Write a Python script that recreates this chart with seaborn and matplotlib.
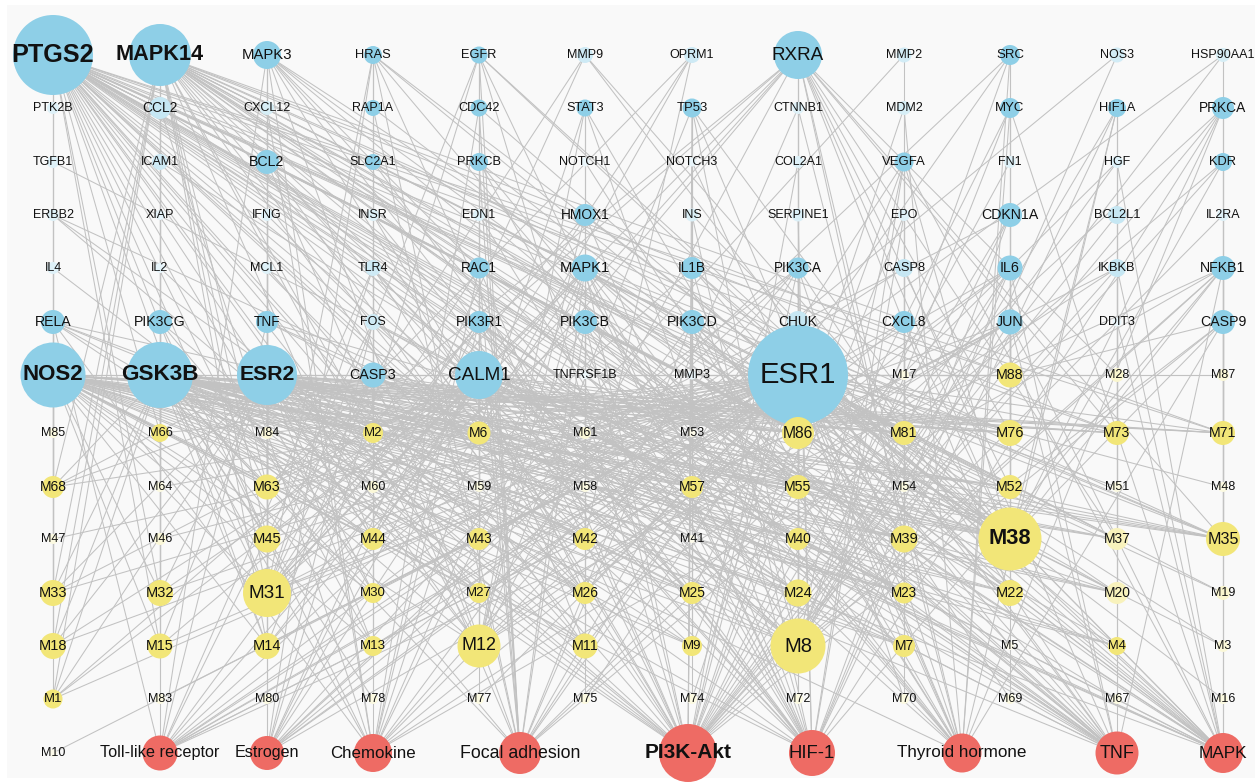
import numpy as np
import pandas as pd
import matplotlib
matplotlib.use("Agg")
import matplotlib.pyplot as plt
from matplotlib.collections import LineCollection
from matplotlib.patches import Rectangle
from matplotlib.colors import to_rgb, to_hex
import seaborn as sns

# ---------------------------------------------------------------- data
# target genes, one list per grid row (top to bottom)
target_rows = [
    ["PTGS2", "MAPK14", "MAPK3", "HRAS", "EGFR", "MMP9", "OPRM1", "RXRA", "MMP2", "SRC", "NOS3", "HSP90AA1"],
    ["PTK2B", "CCL2", "CXCL12", "RAP1A", "CDC42", "STAT3", "TP53", "CTNNB1", "MDM2", "MYC", "HIF1A", "PRKCA"],
    ["TGFB1", "ICAM1", "BCL2", "SLC2A1", "PRKCB", "NOTCH1", "NOTCH3", "COL2A1", "VEGFA", "FN1", "HGF", "KDR"],
    ["ERBB2", "XIAP", "IFNG", "INSR", "EDN1", "HMOX1", "INS", "SERPINE1", "EPO", "CDKN1A", "BCL2L1", "IL2RA"],
    ["IL4", "IL2", "MCL1", "TLR4", "RAC1", "MAPK1", "IL1B", "PIK3CA", "CASP8", "IL6", "IKBKB", "NFKB1"],
    ["RELA", "PIK3CG", "TNF", "FOS", "PIK3R1", "PIK3CB", "PIK3CD", "CHUK", "CXCL8", "JUN", "DDIT3", "CASP9"],
    ["NOS2", "GSK3B", "ESR2", "CASP3", "CALM1", "TNFRSF1B", "MMP3", "ESR1"],
]
target_size = [
    [40, 31, 14, 9, 8.5, 8, 8, 24, 7.5, 10, 7.5, 7],
    [6, 11, 7, 8, 8.5, 8.5, 9.5, 6, 7, 10, 9, 11],
    [6, 8, 12, 8, 9, 4.5, 4.5, 6, 9.5, 6, 6, 9],
    [6, 5, 6, 6, 6, 11, 6.5, 6.5, 6, 12, 9, 6],
    [6, 5, 6, 8, 10.5, 13.5, 11, 10.5, 9, 12.5, 9, 12],
    [12, 12, 11, 8, 11, 12, 12, 11, 11, 12.5, 4.5, 12],
    [32.5, 33, 30, 12.5, 24, 4, 4.5, 50],
]

# compounds, one list per grid row (continuing below the targets)
compound_rows = [
    ["M17", "M88", "M28", "M87"],
    ["M85", "M66", "M84", "M2", "M6", "M61", "M53", "M86", "M81", "M76", "M73", "M71"],
    ["M68", "M64", "M63", "M60", "M59", "M58", "M57", "M55", "M54", "M52", "M51", "M48"],
    ["M47", "M46", "M45", "M44", "M43", "M42", "M41", "M40", "M39", "M38", "M37", "M35"],
    ["M33", "M32", "M31", "M30", "M27", "M26", "M25", "M24", "M23", "M22", "M20", "M19"],
    ["M18", "M15", "M14", "M13", "M12", "M11", "M9", "M8", "M7", "M5", "M4", "M3"],
    ["M1", "M83", "M80", "M78", "M77", "M75", "M74", "M72", "M70", "M69", "M67", "M16"],
    ["M10"],
]
compound_size = [
    [5, 12.5, 7, 6],
    [5, 9, 6, 10, 11.5, 6, 4, 16, 12, 13, 12, 12],
    [11, 5, 12.5, 6, 5, 5, 11, 12, 5, 12, 5, 5],
    [5, 6, 13.5, 11, 11, 11, 4, 11, 13.5, 31.5, 11, 17],
    [13, 13, 24, 10, 10, 11, 11, 13.5, 10.5, 13, 11, 7],
    [13, 12.5, 13, 10, 21.5, 12.5, 10, 27.5, 11, 4, 9, 6],
    [9.5, 5, 5, 5, 5, 5, 5, 5, 5, 5, 5, 5],
    [4],
]

pathways = ["Toll-like receptor", "Estrogen", "Chemokine", "Focal adhesion", "PI3K-Akt",
            "HIF-1", "Thyroid hormone", "TNF", "MAPK"]
pathway_size = [17.5, 17, 19, 21, 29, 23, 19.5, 21.5, 20]

# nodes with low centrality, drawn in a faint tint
faint_nodes = ["PTK2B", "CCL2", "CXCL12", "TGFB1", "ICAM1", "ERBB2", "XIAP", "IFNG", "INSR",
               "MMP9", "OPRM1", "CTNNB1", "NOTCH1", "NOTCH3", "COL2A1", "EDN1", "INS", "SERPINE1",
               "MMP2", "NOS3", "HSP90AA1", "MDM2", "FN1", "HGF", "EPO", "BCL2L1", "IL2RA",
               "IL4", "IL2", "MCL1", "TLR4", "FOS", "CHUK", "CASP8", "IKBKB", "DDIT3",
               "TNFRSF1B", "MMP3",
               "M17", "M28", "M87", "M85", "M84", "M61", "M53", "M64", "M60", "M59", "M58",
               "M54", "M51", "M48", "M47", "M46", "M41", "M37", "M20", "M19", "M5", "M3",
               "M83", "M80", "M78", "M77", "M75", "M74", "M72", "M70", "M69", "M67", "M16", "M10"]

bold_labels = ["PTGS2", "MAPK14", "NOS2", "GSK3B", "ESR2", "M38", "PI3K-Akt"]

# compound -> target links
compound_links = {
    "M17": "ESR1 NOS2",
    "M88": "ESR1 NOS2 GSK3B ESR2 CALM1 PTGS2 MAPK14 IL6 JUN CASP9",
    "M28": "ESR1 NOS2 GSK3B RXRA",
    "M87": "ESR1 NOS2 PRKCA",
    "M85": "PTGS2 NOS2",
    "M66": "PTGS2 MAPK14 GSK3B ESR1 NOS2 CCL2 PIK3CG",
    "M84": "ESR2 MAPK3 ESR1",
    "M2": "ESR1 PTGS2 NOS2 GSK3B CASP3 HRAS TLR4 MAPK14",
    "M6": "ESR1 PTGS2 NOS2 GSK3B ESR2 CALM1 EGFR RAC1 RXRA OPRM1",
    "M61": "ESR1 GSK3B STAT3",
    "M53": "PTGS2",
    "M86": "ESR1 PTGS2 NOS2 GSK3B ESR2 MAPK14 CALM1 RXRA CHUK PIK3CA CTNNB1 JUN IL6 PIK3CD CASP3",
    "M81": "ESR1 PTGS2 NOS2 GSK3B ESR2 MAPK14 CALM1 VEGFA CXCL8 CASP8",
    "M76": "ESR1 PTGS2 NOS2 GSK3B ESR2 MAPK14 CALM1 RXRA JUN IL6 CDKN1A MYC SRC",
    "M73": "ESR1 PTGS2 NOS2 GSK3B ESR2 MAPK14 RXRA IKBKB HIF1A BCL2L1",
    "M71": "ESR1 PTGS2 NOS2 GSK3B ESR2 MAPK14 NFKB1 CASP9 PRKCA KDR",
    "M68": "PTGS2 NOS2 ESR1 GSK3B ESR2 RELA MAPK14 CASP3",
    "M64": "MAPK14 ESR1",
    "M63": "ESR1 PTGS2 NOS2 GSK3B ESR2 MAPK14 CALM1 MAPK3 BCL2 TNF MCL1 RXRA IFNG OPRM1",
    "M60": "PTGS2 ESR1 FOS",
    "M59": "ESR1 EDN1",
    "M58": "GSK3B PIK3CB",
    "M57": "ESR1 PTGS2 NOS2 GSK3B ESR2 MAPK14 CALM1 PIK3CD TP53 IL1B",
    "M55": "ESR1 PTGS2 NOS2 GSK3B ESR2 MAPK14 CALM1 RXRA PIK3CA SERPINE1",
    "M54": "ESR1 CXCL8",
    "M52": "ESR1 PTGS2 NOS2 GSK3B ESR2 MAPK14 RXRA JUN CDKN1A MYC IL6",
    "M51": "ESR1 HGF",
    "M48": "NFKB1 ESR1",
    "M47": "PTGS2 ESR1",
    "M46": "MAPK14 ESR1 XIAP",
    "M45": "ESR1 PTGS2 NOS2 GSK3B ESR2 MAPK14 CALM1 MAPK3 BCL2 TNF MMP9",
    "M44": "ESR1 PTGS2 NOS2 GSK3B ESR2 MAPK14 CALM1 HRAS CASP3 OPRM1",
    "M43": "ESR1 PTGS2 NOS2 GSK3B ESR2 CALM1 EGFR RAC1",
    "M42": "ESR1 PTGS2 NOS2 GSK3B ESR2 MAPK14 STAT3 PIK3CB OPRM1",
    "M41": "ESR1",
    "M40": "ESR1 PTGS2 NOS2 GSK3B ESR2 RXRA CHUK PIK3CA",
    "M39": "ESR1 PTGS2 NOS2 GSK3B ESR2 MAPK14 CALM1 RXRA VEGFA CXCL8 CASP8 EPO MDM2 MMP2",
    "M38": "ESR1 PTGS2 NOS2 GSK3B ESR2 MAPK14 CALM1 RXRA MAPK3 HRAS EGFR MMP9 SRC CCL2 TP53 "
           "MYC HIF1A PRKCA BCL2 VEGFA KDR HMOX1 CDKN1A MAPK1 IL1B IL6 NFKB1 RELA TNF PIK3CB "
           "JUN CASP9 CASP3 CXCL8",
    "M37": "ESR1 PTGS2 NOS2 GSK3B ESR2 MAPK14 RXRA IKBKB HIF1A",
    "M35": "ESR1 PTGS2 NOS2 GSK3B ESR2 MAPK14 CALM1 RXRA NFKB1 CASP9 PRKCA KDR HSP90AA1 IL2RA MAPK1 CASP3",
    "M33": "PTGS2 NOS2 ESR1 GSK3B ESR2 MAPK14 CALM1 RELA IL4 TGFB1",
    "M32": "PTGS2 MAPK14 NOS2 GSK3B ESR1 ESR2 CALM1 PIK3CG ICAM1 CCL2",
    "M31": "ESR1 PTGS2 NOS2 GSK3B ESR2 MAPK14 CALM1 RXRA MAPK3 BCL2 TNF IFNG MCL1 CXCL12 HRAS "
           "CASP3 TLR4 EGFR RAC1 MAPK1 PIK3CB PIK3R1 JUN CDKN1A HMOX1",
    "M30": "ESR1 PTGS2 NOS2 GSK3B ESR2 HRAS CASP3 TLR4",
    "M27": "ESR1 PTGS2 NOS2 GSK3B ESR2 CALM1 EGFR PIK3R1",
    "M26": "ESR1 PTGS2 NOS2 GSK3B ESR2 MAPK14 CALM1 MAPK1 PIK3CB",
    "M25": "ESR1 PTGS2 NOS2 GSK3B ESR2 MAPK14 TP53 PIK3CD IL1B",
    "M24": "ESR1 PTGS2 NOS2 GSK3B ESR2 MAPK14 CALM1 RXRA PIK3CA CHUK CTNNB1 SERPINE1 COL2A1",
    "M23": "ESR1 PTGS2 NOS2 GSK3B ESR2 MAPK14 CALM1 VEGFA CASP8 CXCL8",
    "M22": "ESR1 PTGS2 NOS2 GSK3B ESR2 MAPK14 RXRA CDKN1A JUN IL6 MYC",
    "M20": "ESR1 PTGS2 NOS2 GSK3B ESR2 MAPK14 CALM1 IKBKB BCL2L1 HIF1A",
    "M19": "ESR1 NFKB1 CASP9 PTGS2",
    "M18": "PTGS2 NOS2 ESR1 GSK3B ESR2 MAPK14 CALM1 RELA PTK2B ERBB2 IL4",
    "M15": "MAPK14 PTGS2 NOS2 GSK3B ESR1 ESR2 CALM1 CCL2 ICAM1 PIK3CG IL2",
    "M14": "ESR1 PTGS2 NOS2 GSK3B ESR2 MAPK14 CALM1 MAPK3 BCL2 TNF MCL1 RXRA CASP3",
    "M13": "ESR1 PTGS2 NOS2 GSK3B ESR2 HRAS TLR4 FOS SLC2A1",
    "M12": "ESR1 PTGS2 NOS2 GSK3B ESR2 MAPK14 CALM1 RXRA EGFR CDC42 PRKCB RAC1 PIK3R1 EDN1 "
           "MAPK1 STAT3 HMOX1 CASP3 TP53 JUN IL6",
    "M11": "ESR1 PTGS2 NOS2 GSK3B ESR2 MAPK14 CALM1 STAT3 MAPK1 PIK3CB HMOX1",
    "M9": "ESR1 PTGS2 NOS2 GSK3B ESR2 TP53 PIK3CD IL1B",
    "M8": "ESR1 PTGS2 NOS2 GSK3B ESR2 MAPK14 CALM1 RXRA CTNNB1 COL2A1 SERPINE1 PIK3CA CHUK "
          "MAPK3 MAPK1 SRC VEGFA TP53 MYC HIF1A CDKN1A JUN IL6 IL1B BCL2 CASP3 CASP9 NFKB1",
    "M7": "ESR1 PTGS2 NOS2 GSK3B ESR2 VEGFA EPO CASP8",
    "M5": "ESR1",
    "M4": "ESR1 PTGS2 NOS2 GSK3B IKBKB HIF1A ESR2",
    "M3": "ESR1 PTGS2 NFKB1",
    "M1": "PTGS2 NOS2 ESR1 GSK3B ESR2 MAPK14 CALM1 RXRA",
    "M83": "MAPK14 ESR1",
    "M80": "MAPK3 ESR2",
    "M78": "HRAS GSK3B",
    "M77": "EGFR ESR1",
    "M75": "STAT3 ESR1",
    "M74": "TP53 ESR1",
    "M72": "ESR1 RXRA",
    "M70": "VEGFA ESR1",
    "M69": "MYC ESR1",
    "M67": "HIF1A PTGS2",
    "M16": "NFKB1 ESR1",
    "M10": "ESR1",
}

# pathway -> target links
pathway_links = {
    "Toll-like receptor": "MAPK14 MAPK3 MAPK1 TLR4 IL1B IL6 TNF CXCL8 RELA NFKB1 IKBKB CHUK "
                          "PIK3CA PIK3R1 JUN FOS CASP8",
    "Estrogen": "ESR1 ESR2 MAPK3 MAPK1 HRAS EGFR SRC MMP2 MMP9 HSP90AA1 NOS3 CALM1 PIK3CA PIK3R1 FOS JUN",
    "Chemokine": "HRAS CCL2 CXCL12 CXCL8 RAC1 CDC42 STAT3 PIK3CG PIK3CA PIK3CB PIK3CD PIK3R1 "
                 "MAPK3 MAPK1 RELA NFKB1 IKBKB CHUK GSK3B",
    "Focal adhesion": "EGFR HRAS RAP1A CDC42 RAC1 PRKCA PRKCB SRC MAPK3 MAPK1 PIK3CA PIK3CB PIK3CD "
                      "PIK3R1 PIK3CG GSK3B CTNNB1 BCL2 VEGFA KDR HGF",
    "PI3K-Akt": "EGFR HRAS MAPK3 MAPK1 PIK3CA PIK3CB PIK3CD PIK3R1 PIK3CG GSK3B TP53 MDM2 MYC BCL2 "
                "BCL2L1 MCL1 CDKN1A CASP9 IL4 IL2 IL2RA IL6 INS INSR KDR VEGFA HGF FN1 COL2A1 EPO "
                "RELA NFKB1 IKBKB CHUK HSP90AA1 PRKCA RAC1 TLR4 ERBB2",
    "HIF-1": "HIF1A VEGFA EGFR ERBB2 INS INSR IL6 NOS2 NOS3 HMOX1 EDN1 SERPINE1 EPO SLC2A1 CDKN1A "
             "BCL2 PIK3CA PIK3CB PIK3CD PIK3R1 MAPK3 MAPK1 TLR4 RELA NFKB1 PRKCA PRKCB IFNG STAT3",
    "Thyroid hormone": "ESR1 MAPK3 MAPK1 HRAS SRC PIK3CA PIK3R1 PIK3CB PIK3CD GSK3B CTNNB1 MYC TP53 "
                       "MDM2 NOTCH1 NOTCH3 PRKCA PRKCB CASP9 HIF1A STAT3 RXRA",
    "TNF": "TNF TNFRSF1B MAPK14 MAPK3 MAPK1 IKBKB CHUK RELA NFKB1 JUN FOS IL6 IL1B CCL2 ICAM1 "
           "MMP3 MMP9 PTGS2 EDN1 CASP3 CASP8 PIK3CA PIK3CB PIK3CD PIK3R1",
    "MAPK": "MAPK14 MAPK3 MAPK1 HRAS RAP1A EGFR ERBB2 INSR INS KDR VEGFA HGF TNF IL1B TGFB1 CDC42 "
            "RAC1 PRKCA PRKCB CASP3 NFKB1 IKBKB CHUK RELA JUN FOS MYC DDIT3 HSP90AA1",
}

# ---------------------------------------------------------------- layout (pixel grid)
W, H = 1255, 782
col_x = [53, 160, 267, 373, 479, 585, 692, 798, 904, 1010, 1117, 1223]
row_y = [55, 108, 162, 215, 268, 322, 375, 433, 487, 539, 593, 646, 699, 753]
pathway_x = [160, 267, 373, 520, 688, 812, 962, 1117, 1223]

colors = {"target": "#8ecfe7", "compound": "#f2e678", "pathway": "#ee6b64"}

# node ids are prefixed by group so that "TNF" the gene and "TNF" the pathway stay distinct
records = []
for i, (names, sizes) in enumerate(zip(target_rows, target_size)):
    for j, (n, r) in enumerate(zip(names, sizes)):
        records.append(("g:" + n, n, col_x[j], row_y[i], r, "target"))
for i, (names, sizes) in enumerate(zip(compound_rows, compound_size)):
    row = 6 + i
    offset = len(target_rows[6]) if i == 0 else 0
    for j, (n, r) in enumerate(zip(names, sizes)):
        records.append(("c:" + n, n, col_x[offset + j], row_y[row], r, "compound"))
for n, r, x in zip(pathways, pathway_size, pathway_x):
    records.append(("p:" + n, n, x, row_y[13], r, "pathway"))

nodes = pd.DataFrame(records, columns=["id", "label", "x", "y", "r", "group"])
pos = {i: (x, y) for i, x, y in zip(nodes["id"], nodes["x"], nodes["y"])}


def tint(base, r, faint):
    rgb = np.array(to_rgb(base))
    if not faint:
        return to_hex(rgb)
    t = float(np.clip(0.15 + (r - 4) * 0.07, 0.1, 0.5))
    return to_hex(rgb * t + np.ones(3) * (1 - t))


palette = {i: tint(colors[g], r, lab in faint_nodes)
           for i, lab, r, g in zip(nodes["id"], nodes["label"], nodes["r"], nodes["group"])}
# marker area (pt^2) for a circle of radius r pixels at 100 dpi
nodes["area"] = (2 * nodes["r"] * 0.72) ** 2

# edges
segments = []
for src, tgts in compound_links.items():
    for t in tgts.split():
        segments.append([pos["c:" + src], pos["g:" + t]])
for src, tgts in pathway_links.items():
    for t in tgts.split():
        segments.append([pos["p:" + src], pos["g:" + t]])

# ---------------------------------------------------------------- drawing
sns.set_theme(style="white")
plt.rcParams["font.family"] = ["Liberation Sans", "DejaVu Sans"]

fig = plt.figure(figsize=(W / 100, H / 100), dpi=100, facecolor="white")
ax = fig.add_axes([0, 0, 1, 1])
ax.set_facecolor("white")
ax.add_patch(Rectangle((7, 5), W - 7, H - 9, facecolor="#f9f9f9", edgecolor="none", zorder=0))

ax.add_collection(LineCollection(segments, colors="#c2c2c2", linewidths=0.75, zorder=1))

amin, amax = nodes["area"].min(), nodes["area"].max()
sns.scatterplot(data=nodes, x="x", y="y", hue="id", palette=palette,
                size="area", sizes=(amin, amax), size_norm=(amin, amax),
                legend=False, edgecolor="none", linewidth=0, alpha=1, ax=ax, zorder=2)

for lab, x, y, r in zip(nodes["label"], nodes["x"], nodes["y"], nodes["r"]):
    fs_px = 12.5 + 0.4 * max(r - 8, 0)
    ax.text(x, y, lab, ha="center", va="center", fontsize=fs_px * 0.72,
            fontweight="bold" if lab in bold_labels else "normal",
            color="#111111", zorder=3)

ax.set_xlim(0, W)
ax.set_ylim(H, 0)
ax.set_axis_off()
fig.savefig("out.png", dpi=100, facecolor="white")
